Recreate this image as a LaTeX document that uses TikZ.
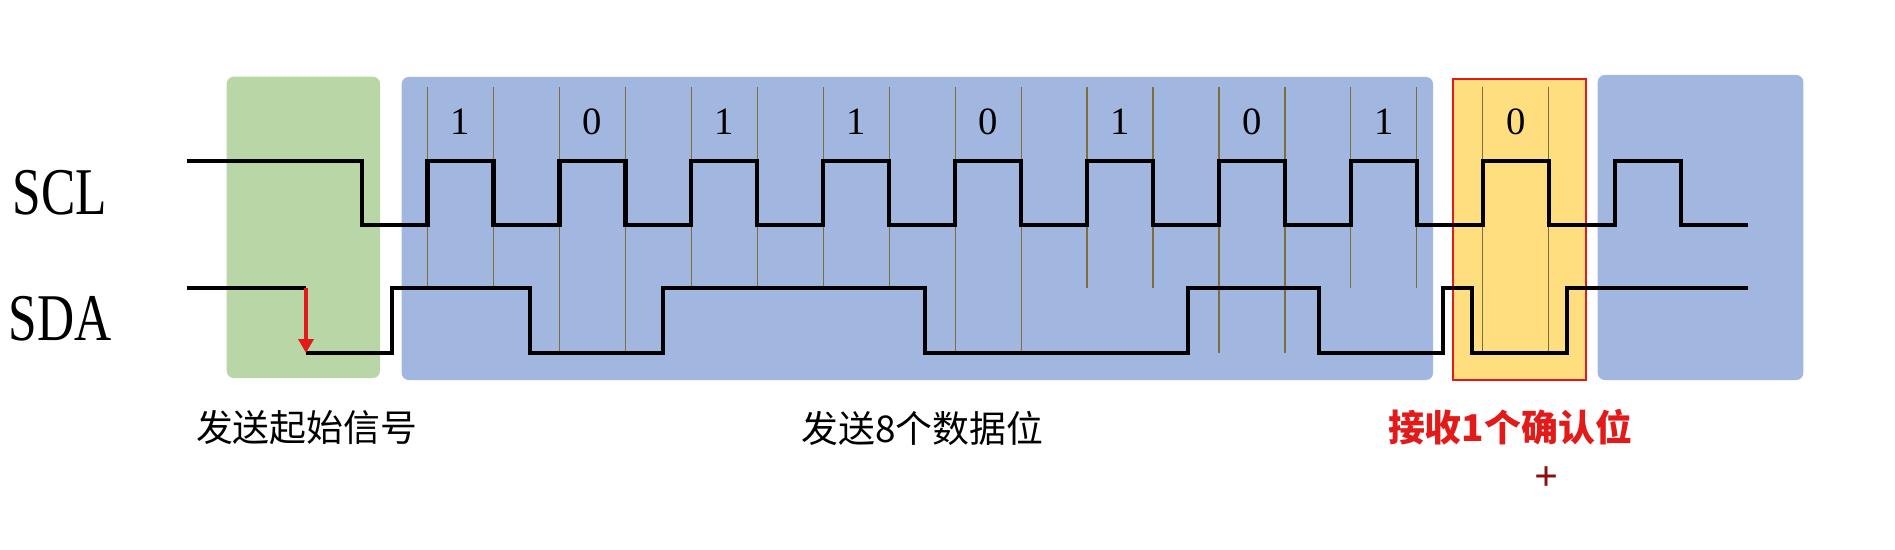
\documentclass[tikz,border=0pt]{standalone}
\usepackage{fontspec}
\setmainfont{Liberation Serif}
\newfontfamily\cjk{Noto Sans CJK SC}
\usetikzlibrary{positioning,arrows.meta}
\definecolor{startgreen}{RGB}{185,214,166}
\definecolor{datablue}{RGB}{161,183,224}
\definecolor{ackyellow}{RGB}{255,222,128}
\definecolor{ackred}{RGB}{226,26,26}
\definecolor{tickolive}{RGB}{125,110,60}

\begin{document}
\begin{tikzpicture}[x=0.02cm,y=-0.02cm,
  wave/.style={line width=2.4pt,black},
  tick/.style={line width=0.7pt,tickolive},
  region/.style={rounded corners=4pt},
  bitlbl/.style={font=\fontsize{22}{24}\selectfont,inner sep=0pt},
  siglbl/.style={font=\fontsize{38}{40}\selectfont,inner sep=0pt},
  cjklbl/.style={font=\cjk\fontsize{21}{23}\selectfont,inner sep=0pt},
  startarrow/.style={ackred,line width=2pt,-{Triangle[length=2.8mm,width=3mm]}}]
\useasboundingbox (0,0) rectangle (1895,550);
\fill[region,startgreen] (226.7,76.7) rectangle (380,378);
\fill[region,datablue] (401.7,77) rectangle (1433,380);
\fill[region,datablue] (1597.7,75) rectangle (1803.3,380);
\filldraw[fill=ackyellow,draw=ackred,line width=1.1pt] (1452.7,79) rectangle (1586,380);
\foreach \b [count=\i from 0] in {1,0,1,1,0,1,0,1,0}{
  \pgfmathsetmacro\r{427.5+131.9*\i}
  \pgfmathsetmacro\yb{\b==1 ? 288 : 353}
  \draw[tick] (\r,86.7) -- (\r,\yb);
  \draw[tick] ({\r+66},86.7) -- ({\r+66},\yb);
  \node[bitlbl] (bit\i) at ({\r+33},122) {\b};
}
\draw[wave] (186.7,160.7) -| (361.7,225)
  \foreach \i in {0,...,9}{ -| ({427.5+131.9*\i},160.7) -| ({493.5+131.9*\i},225)}
  -- (1748,225);
\coordinate (sdahi) at (306,288);
\coordinate (sdalo) at (306,353);
\draw[wave] (186.7,288) -- (sdahi);
\draw[wave] (sdalo) -| (391.7,288) -| (530,353) -| (662.7,288) -| (925,353)
  -| (1188.3,288) -| (1319,353) -| (1443.3,288) -| (1471.7,353) -| (1566.7,288)
  -- (1748,288);
\draw[startarrow] (sdahi) -- (sdalo);
\node[siglbl] (scl) at (60,192.5) {\scalebox{0.77}[1]{SCL}};
\node[siglbl] (sda) at (60,319) {\scalebox{0.77}[1]{SDA}};
\node[cjklbl] (startlbl) at (306.7,428) {发送起始信号};
\node[cjklbl] (datalbl) at (922.5,428) {发送8个数据位};
\node[cjklbl,ackred,font=\cjk\bfseries\fontsize{21}{23}\selectfont] (acklbl) at (1510,427.5) {接收1个确认位};
\node[inner sep=0pt,text=ackred!60!black,font=\bfseries\fontsize{24}{26}\selectfont] (cursor) at (1546,479) {+};
\end{tikzpicture}
\end{document}
